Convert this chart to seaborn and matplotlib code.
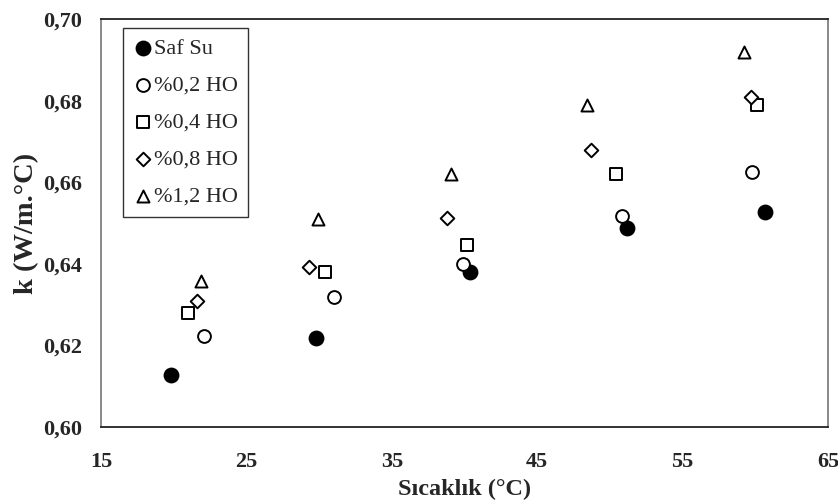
import matplotlib
matplotlib.use("Agg")
import matplotlib.pyplot as plt
import seaborn as sns
import pandas as pd

# Data
saf_su_x = [19.8, 29.8, 40.4, 51.2, 60.7]
saf_su_y = [0.6127, 0.6218, 0.6380, 0.6488, 0.6528]

ho02_x = [22.1, 31.0, 39.9, 50.8, 59.8]
ho02_y = [0.6223, 0.6318, 0.6400, 0.6518, 0.6624]

ho04_x = [21.0, 30.4, 40.2, 50.4, 60.1]
ho04_y = [0.6280, 0.6380, 0.6445, 0.6620, 0.6788]

ho08_x = [21.6, 29.3, 38.8, 48.7, 59.7]
ho08_y = [0.6310, 0.6392, 0.6512, 0.6680, 0.6808]

ho12_x = [21.9, 29.9, 39.1, 48.4, 59.2]
ho12_y = [0.6358, 0.6510, 0.6620, 0.6790, 0.6920]

series_names = ["Saf Su", "%0,2 HO", "%0,4 HO", "%0,8 HO", "%1,2 HO"]
x_ticks = [15, 25, 35, 45, 55, 65]
y_ticks = [0.60, 0.62, 0.64, 0.66, 0.68, 0.70]

xs = [saf_su_x, ho02_x, ho04_x, ho08_x, ho12_x]
ys = [saf_su_y, ho02_y, ho04_y, ho08_y, ho12_y]
frames = []
for name, x, y in zip(series_names, xs, ys):
    frames.append(pd.DataFrame({"T": x, "k": y, "seri": name}))
df = pd.concat(frames, ignore_index=True)

sns.set_style("white")
plt.rcParams["font.family"] = ["Liberation Serif", "DejaVu Serif"]

fig = plt.figure(figsize=(8.38, 5.03), dpi=100)
ax = fig.add_axes([101 / 838, (503 - 427) / 503, 727 / 838, 408 / 503])

styles = {
    "Saf Su": dict(marker="o", s=100, color="black", edgecolor="black"),
    "%0,2 HO": dict(marker="o", s=85, color="white", edgecolor="black"),
    "%0,4 HO": dict(marker="s", s=85, color="white", edgecolor="black"),
    "%0,8 HO": dict(marker="D", s=48, color="white", edgecolor="black"),
    "%1,2 HO": dict(marker="^", s=75, color="white", edgecolor="black"),
}
for name in series_names:
    sub = df[df["seri"] == name]
    st = styles[name]
    sns.scatterplot(data=sub, x="T", y="k", ax=ax, label=name,
                    marker=st["marker"], s=st["s"], color=st["color"],
                    edgecolor=st["edgecolor"], linewidth=1.4, zorder=3)

ax.set_xlim(15, 65)
ax.set_ylim(0.60, 0.70)
ax.set_xticks(x_ticks)
ax.set_yticks(y_ticks)
ax.set_xticklabels([str(t) for t in x_ticks], fontsize=16, fontweight="bold")
ax.set_yticklabels([f"{t:.2f}".replace(".", ",") for t in y_ticks],
                   fontsize=16, fontweight="bold")
ax.tick_params(axis="both", direction="in", length=5, width=1,
               color="#808080")
ax.tick_params(axis="y", pad=13.7)
ax.tick_params(axis="x", pad=18)

ax.set_xlabel("Sıcaklık (°C)", fontsize=17.5, fontweight="bold", labelpad=5)
ax.set_ylabel("k (W/m.°C)", fontsize=20.5, fontweight="bold", labelpad=3)

for side in ["left", "right"]:
    ax.spines[side].set_color("#808080")
    ax.spines[side].set_linewidth(1.3)
for side in ["top", "bottom"]:
    ax.spines[side].set_color("#222222")
    ax.spines[side].set_linewidth(1.3)
ax.grid(False)

leg = ax.legend(loc="upper left", bbox_to_anchor=(0.030, 0.977),
                borderaxespad=0, frameon=True, fancybox=False,
                prop={"size": 16, "family": ["Liberation Serif"]},
                handletextpad=0.05, handlelength=0.9, labelspacing=0.74,
                borderpad=0.45, edgecolor="black")
leg.get_frame().set_linewidth(1.0)

fig.savefig("out.png", dpi=100)
